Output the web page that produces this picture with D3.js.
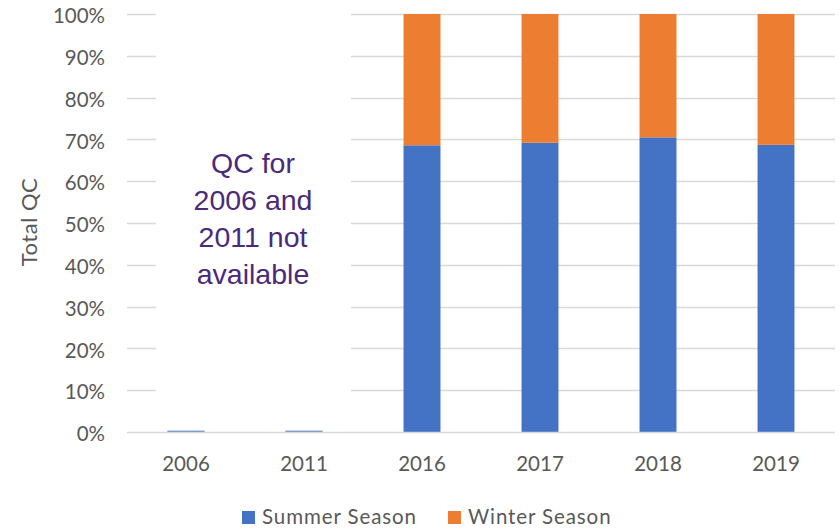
<!DOCTYPE html>
<html>
<head>
<meta charset="utf-8">
<script src="https://cdn.jsdelivr.net/npm/d3@7"></script>
<style>
  html, body { margin: 0; padding: 0; background: #fff; }
  svg { display: block; }
</style>
</head>
<body>
<svg id="chart" width="840" height="530"></svg>
<script>
const categories = ["2006", "2011", "2016", "2017", "2018", "2019"];
const seriesNames = ["Summer Season", "Winter Season"];
const summer = [0.0025, 0.0025, 0.686, 0.692, 0.705, 0.687];
const winter = [0, 0, 0.314, 0.308, 0.295, 0.313];
const yTicks = [0, 0.1, 0.2, 0.3, 0.4, 0.5, 0.6, 0.7, 0.8, 0.9, 1.0];
const noteLines = ["QC for", "2006 and", "2011 not", "available"];
const yTitle = "Total QC";
const colors = ["#4472C4", "#ED7D31"];

const svg = d3.select("#chart");
const plot = { left: 127, right: 835, top: 14, bottom: 432 };
const axisFont = "Lato, 'Open Sans', sans-serif";
const textColor = "#595959";

const x = d3.scaleBand().domain(categories).range([plot.left, plot.right]).paddingInner(0.687).paddingOuter(0.3435);
const y = d3.scaleLinear().domain([0, 1]).range([plot.bottom, plot.top]);

const rows = categories.map((c, i) => ({ cat: c, "Summer Season": summer[i], "Winter Season": winter[i] }));
const stacked = d3.stack().keys(seriesNames)(rows);

// gridlines
svg.append("g").selectAll("line").data(yTicks.slice(1)).join("line")
  .attr("x1", plot.left).attr("x2", plot.right)
  .attr("y1", d => Math.round(y(d)) + 0.5).attr("y2", d => Math.round(y(d)) + 0.5)
  .attr("stroke", "#D9D9D9").attr("stroke-width", 1.5);

// bars
svg.append("g").selectAll("g").data(stacked).join("g")
  .attr("fill", (d, i) => colors[i])
  .selectAll("rect").data(d => d).join("rect")
  .attr("x", d => x(d.data.cat))
  .attr("width", x.bandwidth())
  .attr("y", d => y(d[1]))
  .attr("height", d => Math.max(0, y(d[0]) - y(d[1])));

// tiny bars at 2006/2011 drawn as thin lines
svg.append("g").selectAll("line").data(categories.filter((c, i) => summer[i] < 0.01)).join("line")
  .attr("x1", d => x(d)).attr("x2", d => x(d) + x.bandwidth())
  .attr("y1", plot.bottom - 1).attr("y2", plot.bottom - 1)
  .attr("stroke", "#8EA6D6").attr("stroke-width", 1);

// white annotation box
svg.append("rect").attr("x", 156).attr("y", 0).attr("width", 195).attr("height", 420).attr("fill", "#fff");

// x axis line
svg.append("line").attr("x1", plot.left).attr("x2", plot.right)
  .attr("y1", plot.bottom + 0.5).attr("y2", plot.bottom + 0.5)
  .attr("stroke", "#D9D9D9").attr("stroke-width", 1.5);

// y axis labels
const yAxis = d3.axisLeft(y).tickValues(yTicks).tickFormat(d3.format(".0%")).tickSize(0).tickPadding(22);
const yg = svg.append("g").attr("transform", `translate(${plot.left},0)`).call(yAxis);
yg.select(".domain").remove();
yg.selectAll("text").attr("font-family", axisFont).attr("font-size", 20.5).attr("fill", textColor).attr("dy", "0.42em");

// x axis labels
const xAxis = d3.axisBottom(x).tickSize(0).tickPadding(24);
const xg = svg.append("g").attr("transform", `translate(0,${plot.bottom})`).call(xAxis);
xg.select(".domain").remove();
xg.selectAll("text").attr("font-family", axisFont).attr("font-size", 20.5).attr("fill", textColor);

// y title
svg.append("text").attr("transform", "translate(37,222) rotate(-90)")
  .attr("text-anchor", "middle").attr("font-family", axisFont).attr("font-size", 22)
  .attr("letter-spacing", 0.5).attr("fill", textColor).text(yTitle);

// annotation
svg.append("text").attr("text-anchor", "middle").attr("font-family", "'Liberation Sans', Arial, sans-serif")
  .attr("font-size", 28.5).attr("fill", "#4B2A7B")
  .selectAll("tspan").data(noteLines).join("tspan")
  .attr("x", 253).attr("y", (d, i) => 173 + i * 37).text(d => d);

// legend
const legendX = [242, 448];
const lg = svg.append("g").selectAll("g").data(seriesNames).join("g")
  .attr("transform", (d, i) => `translate(${legendX[i]},511)`);
lg.append("rect").attr("width", 13).attr("height", 13).attr("fill", (d, i) => colors[i]);
lg.append("text").attr("x", 20).attr("y", 13).attr("font-family", axisFont).attr("font-size", 20.5)
  .attr("letter-spacing", 0.9).attr("fill", textColor).text(d => d);
</script>
</body>
</html>
